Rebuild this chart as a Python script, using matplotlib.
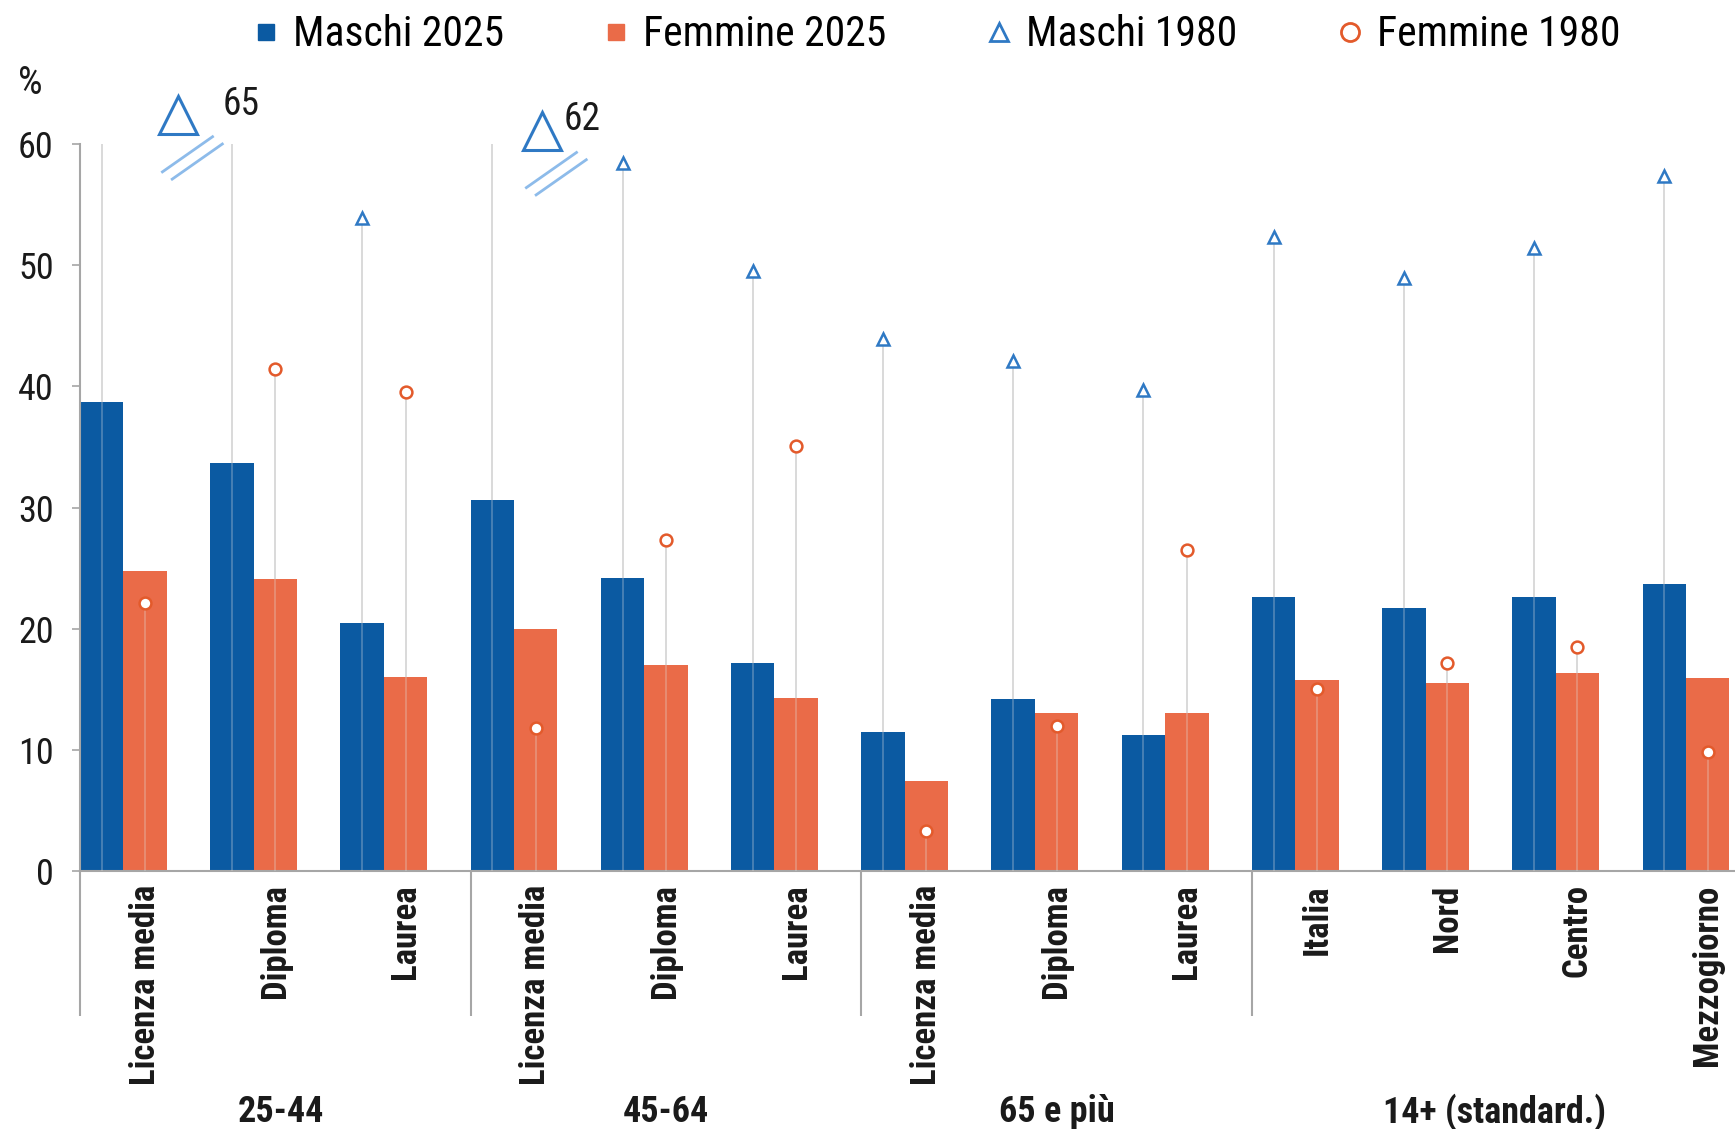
import numpy as np
import matplotlib
matplotlib.use("Agg")
import matplotlib.pyplot as plt
from matplotlib.lines import Line2D

NARROW = ['Liberation Sans Narrow', 'Arial Narrow', 'Roboto Condensed',
          'Archivo Narrow', 'Liberation Sans', 'DejaVu Sans']
plt.rcParams['font.family'] = NARROW

# categories and groups
categories = ['Licenza media', 'Diploma', 'Laurea',
              'Licenza media', 'Diploma', 'Laurea',
              'Licenza media', 'Diploma', 'Laurea',
              'Italia', 'Nord', 'Centro', 'Mezzogiorno']
groups = ['25-44', '45-64', '65 e più', '14+ (standard.)']
group_sizes = [3, 3, 3, 4]

# values (%)
male_2025 = [38.7, 33.7, 20.5, 30.6, 24.2, 17.2, 11.5, 14.2, 11.2, 22.6, 21.7, 22.6, 23.7]
female_2025 = [24.8, 24.1, 16.0, 20.0, 17.0, 14.3, 7.4, 13.0, 13.0, 15.8, 15.5, 16.3, 15.9]
male_1980 = [65, 61, 53.9, 62, 58.4, 49.5, 43.9, 42.1, 39.7, 52.3, 48.9, 51.4, 57.4]
female_1980 = [22.1, 41.4, 39.5, 11.8, 27.3, 35.1, 3.3, 12.0, 26.5, 15.0, 17.2, 18.5, 9.8]

# off-scale values that get a label (category index)
labelled_offscale = [0, 3]

BLUE = '#0B5AA2'
ORANGE = '#EA6B48'
TRI = '#2F79C4'
CIRC = '#E35A2B'
GRID = '#D4D4D4'
AXC = '#A6A6A6'
TXT = '#1a1a1a'

YMAX = 60
n = len(categories)
x = np.arange(n)
w = 1 / 3

fig = plt.figure(figsize=(17.35, 11.29), dpi=100)
ax = fig.add_axes([80 / 1735, 258 / 1129, 1655 / 1735, 727 / 1129])

xm = x + w / 2
xf = x + 1.5 * w
m80 = np.minimum(male_1980, YMAX)
f80 = np.array(female_1980)

# drop lines behind the bars
ax.vlines(xm, 0, m80, color=GRID, lw=1.3, zorder=1)
ax.vlines(xf, 0, f80, color=GRID, lw=1.3, zorder=1)

ax.bar(x, male_2025, width=w, align='edge', color=BLUE, zorder=2)
ax.bar(x + w, female_2025, width=w, align='edge', color=ORANGE, zorder=2)

# faint lines showing through the bars
ax.vlines(xm, 0, m80, color='#E0E0E0', lw=1.3, alpha=0.3, zorder=3)
ax.vlines(xf, 0, f80, color='#E0E0E0', lw=1.3, alpha=0.3, zorder=3)

on = np.array(male_1980) <= YMAX
ax.plot(xm[on], np.array(male_1980)[on], ls='none', marker='^', ms=9,
        mfc='white', mec=TRI, mew=1.8, zorder=4)
ax.plot(xf, f80, ls='none', marker='o', ms=8.5, mfc='white', mec=CIRC,
        mew=1.8, zorder=4)

# off-scale labels with break marks
offsets = {0: (0.753, 62.4, 0.345, 63.3), 3: (0.548, 61.1, 0.165, 62.0)}
for i in labelled_offscale:
    dx, ty, lx, ly = offsets[i]
    tx = x[i] + dx
    ax.plot([tx], [ty], marker='^', ms=27, mfc='white', mec=TRI, mew=2.2,
            clip_on=False, zorder=5)
    ax.text(tx + lx, ly, f'{male_1980[i]:g}', fontsize=27, ha='left',
            va='center', color=TXT, clip_on=False)
    for sx in (0, 0.075):
        ax.plot([tx - 0.12 + sx, tx + 0.265 + sx], [ty - 4.7 - sx * 8, ty - 1.8 - sx * 8],
                color='#8DBBEA', lw=2, clip_on=False, zorder=5)

ax.set_xlim(0, 12.71)
ax.set_ylim(0, YMAX)
ax.set_yticks(range(0, 61, 10))
ax.tick_params(axis='y', length=6, width=1.2, color=AXC, pad=13,
               labelsize=26, labelcolor=TXT)
ax.set_xticks([])
for s in ['top', 'right']:
    ax.spines[s].set_visible(False)
for s in ['left', 'bottom']:
    ax.spines[s].set_color(AXC)
    ax.spines[s].set_linewidth(1.5)

# group dividers extending below the axis
starts = np.concatenate([[0], np.cumsum(group_sizes)[:-1]])
ax.vlines(starts, -12.0, 0, color=AXC, lw=1.5, clip_on=False)

for i, c in enumerate(categories):
    ax.text(x[i] + 0.5, -1.1, c, rotation=90, ha='center', va='top',
            fontsize=25, fontweight='bold', color=TXT, clip_on=False)

gcent = [1.54, 4.5, 7.5, 10.86]
for g, gx in zip(groups, gcent):
    ax.text(gx, -19.9, g, ha='center', va='center', fontsize=26,
            fontweight='bold', color=TXT, clip_on=False)

fig.text(30 / 1735, 1 - 83 / 1129, '%', fontsize=28, ha='center', va='center',
         color=TXT)

handles = [
    Line2D([], [], ls='none', marker='s', ms=12, mfc=BLUE, mec=BLUE),
    Line2D([], [], ls='none', marker='s', ms=12, mfc=ORANGE, mec=ORANGE),
    Line2D([], [], ls='none', marker='^', ms=13, mfc='white', mec=TRI, mew=2),
    Line2D([], [], ls='none', marker='o', ms=13, mfc='white', mec=CIRC, mew=2),
]
labels = ['Maschi 2025', 'Femmine 2025', 'Maschi 1980', 'Femmine 1980']
fig.legend(handles, labels, ncol=4, loc='center', bbox_to_anchor=(0.540, 0.969),
           frameon=False, fontsize=30, handlelength=0.6, handletextpad=0.35,
           columnspacing=2.4, borderaxespad=0)

fig.savefig('out.png', dpi=100, facecolor='white')
